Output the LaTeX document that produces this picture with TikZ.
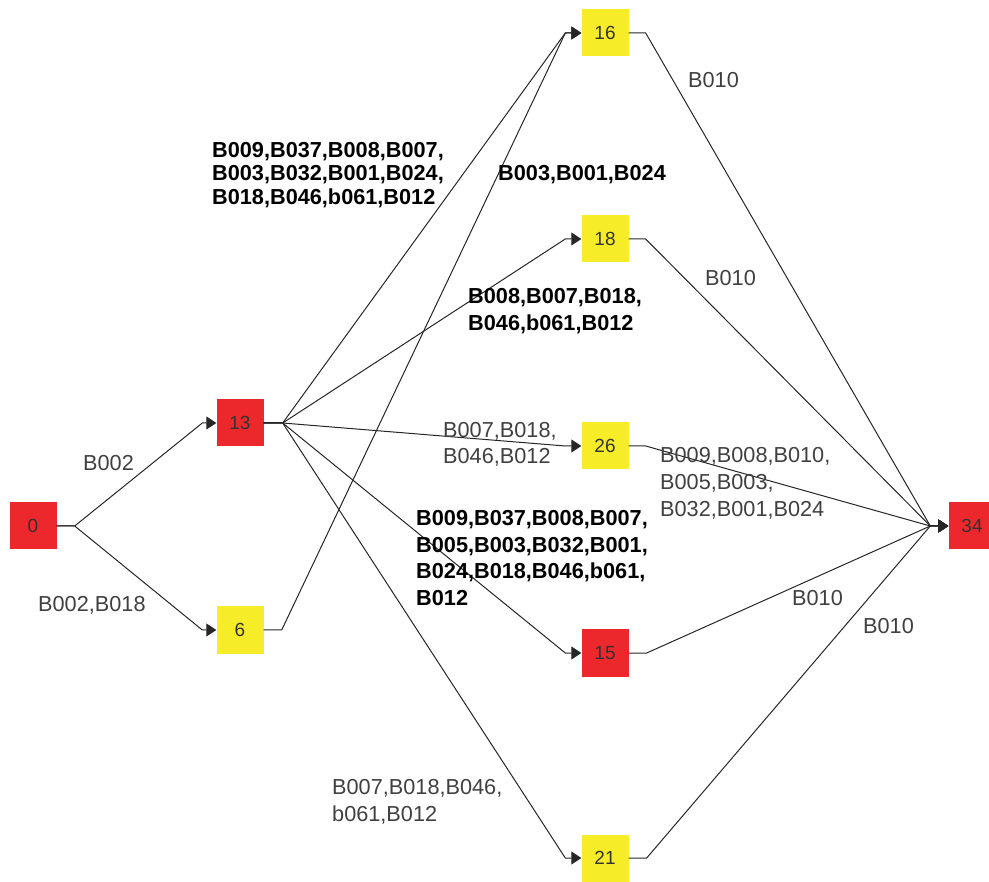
\documentclass[tikz,border=0pt]{standalone}
\usepackage{fontspec}
\setmainfont{Liberation Sans}
\usepackage{xcolor}
\usetikzlibrary{positioning,arrows.meta}

\definecolor{boxred}{RGB}{237,40,45}
\definecolor{boxyellow}{RGB}{246,236,40}

\begin{document}
\begin{tikzpicture}[x=1pt,y=-1pt,
    box/.style={minimum size=47pt,inner sep=0pt,font=\fontsize{19}{22}\selectfont,text=black!80},
    redbox/.style={box,fill=boxred},
    yellowbox/.style={box,fill=boxyellow},
    edge/.style={line width=1pt,black!85,-{Triangle[length=10pt,width=13pt]}},
    lbl/.style={anchor=north west,inner sep=0pt,align=left,text=black!75,font=\fontsize{21.7}{27}\selectfont},
    boldlbl/.style={lbl,text=black,font=\fontsize{21.7}{27}\selectfont\bfseries}]
    \useasboundingbox (0,0) rectangle (989,882);
    % Nodes
    \node[redbox] (n0) at (33,526) {0};
    \node[redbox] (n13) at (240,423) {13};
    \node[yellowbox] (n6) at (240,630) {6};
    \node[yellowbox] (n16) at (605,33) {16};
    \node[yellowbox] (n18) at (605,239) {18};
    \node[yellowbox] (n26) at (605,446) {26};
    \node[redbox] (n15) at (605,653) {15};
    \node[yellowbox] (n21) at (605,858) {21};
    \node[redbox] (n34) at (972,526) {34};
    % From 0
    \draw[edge] (n0.east) -- ++(18,0) -- ([xshift=-14pt]n13.west) -- (n13.west);
    \draw[edge] (n0.east) -- ++(18,0) -- ([xshift=-14pt]n6.west) -- (n6.west);
    % From 13
    \draw[edge] (n13.east) -- ++(19,0) -- ([xshift=-16pt]n16.west) -- (n16.west);
    \draw[edge] (n13.east) -- ++(19,0) -- ([xshift=-16pt]n18.west) -- (n18.west);
    \draw[edge] (n13.east) -- ++(19,0) -- ([xshift=-16pt]n26.west) -- (n26.west);
    \draw[edge] (n13.east) -- ++(19,0) -- ([xshift=-16pt]n15.west) -- (n15.west);
    \draw[edge] (n13.east) -- ++(19,0) -- ([xshift=-16pt]n21.west) -- (n21.west);
    % From 6
    \draw[edge] (n6.east) -- ++(18,0) -- ([xshift=-16pt]n16.west) -- (n16.west);
    % Into 34
    \draw[edge] (n16.east) -- ++(17,0) -- ([xshift=-18pt]n34.west) -- (n34.west);
    \draw[edge] (n18.east) -- ++(17,0) -- ([xshift=-18pt]n34.west) -- (n34.west);
    \draw[edge] (n26.east) -- ++(17,0) -- ([xshift=-18pt]n34.west) -- (n34.west);
    \draw[edge] (n15.east) -- ++(18,0) -- ([xshift=-18pt]n34.west) -- (n34.west);
    \draw[edge] (n21.east) -- ++(18,0) -- ([xshift=-18pt]n34.west) -- (n34.west);
    % Labels
    \node[lbl] (l0a) at (83,455) {B002};
    \node[lbl] (l0b) at (38,596) {B002,B018};
    \node[boldlbl,font=\fontsize{21.7}{23.5}\selectfont\bfseries] (l13a) at (212,142)
        {B009,B037,B008,B007,\\B003,B032,B001,B024,\\B018,B046,b061,B012};
    \node[boldlbl] (l6a) at (498,165) {B003,B001,B024};
    \node[boldlbl] (l13b) at (468,288) {B008,B007,B018,\\B046,b061,B012};
    \node[lbl,font=\fontsize{21.7}{26}\selectfont] (l13c) at (443,422) {B007,B018,\\B046,B012};
    \node[lbl] (l26a) at (660,447) {B009,B008,B010,\\B005,B003,\\B032,B001,B024};
    \node[boldlbl,font=\fontsize{21.7}{26.7}\selectfont\bfseries] (l13d) at (416,510)
        {B009,B037,B008,B007,\\B005,B003,B032,B001,\\B024,B018,B046,b061,\\B012};
    \node[lbl] (l13e) at (332,779) {B007,B018,B046,\\b061,B012};
    \node[lbl] (l16a) at (688,72) {B010};
    \node[lbl] (l18a) at (705,270) {B010};
    \node[lbl] (l15a) at (792,590) {B010};
    \node[lbl] (l21a) at (863,618) {B010};
\end{tikzpicture}
\end{document}
